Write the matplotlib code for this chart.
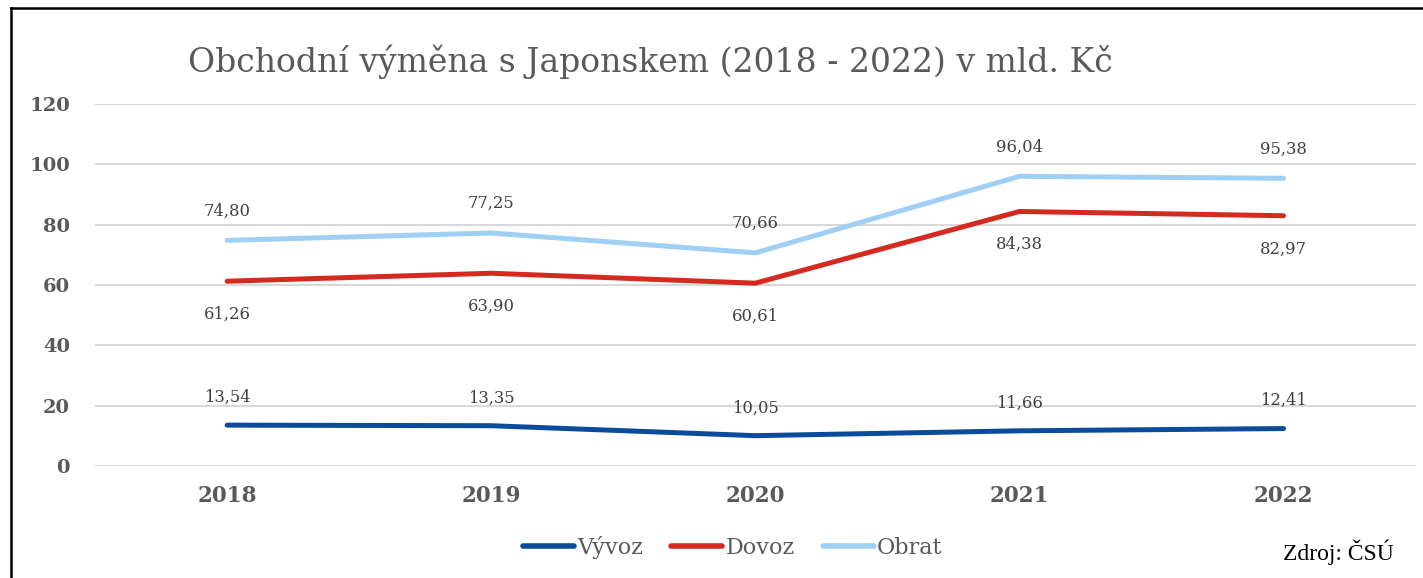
import matplotlib
matplotlib.use("Agg")
import matplotlib.pyplot as plt
from matplotlib.lines import Line2D

years = ["2018", "2019", "2020", "2021", "2022"]
vyvoz = [13.54, 13.35, 10.05, 11.66, 12.41]
dovoz = [61.26, 63.90, 60.61, 84.38, 82.97]
obrat = [74.80, 77.25, 70.66, 96.04, 95.38]
series_names = ["Vývoz", "Dovoz", "Obrat"]
yticks = [0, 20, 40, 60, 80, 100, 120]

colors = ["#0A4B9B", "#D42A1F", "#9FCFF3"]
serif = ["DejaVu Serif"]

fig = plt.figure(figsize=(14.23, 5.78), dpi=100)
ax = fig.add_axes([0.0668, 0.1938, 0.928, 0.6262])

x = list(range(len(years)))
for vals, c in zip([vyvoz, dovoz, obrat], colors):
    ax.plot(x, vals, color=c, lw=3.6, solid_capstyle="round", solid_joinstyle="round", zorder=3)

def fmt(v):
    return f"{v:.2f}".replace(".", ",")

for xi, v in zip(x, obrat):
    ax.annotate(fmt(v), (xi, v), xytext=(0, 21), textcoords="offset points",
                ha="center", va="center", fontsize=11.8, color="#404040", family=serif)
for xi, v in zip(x, dovoz):
    ax.annotate(fmt(v), (xi, v), xytext=(0, -24), textcoords="offset points",
                ha="center", va="center", fontsize=11.8, color="#404040", family=serif)
for xi, v in zip(x, vyvoz):
    ax.annotate(fmt(v), (xi, v), xytext=(0, 20), textcoords="offset points",
                ha="center", va="center", fontsize=11.8, color="#404040", family=serif)

ax.set_xlim(-0.5, len(years) - 0.5)
ax.set_ylim(0, 120)
ax.set_yticks(yticks)
ax.set_yticklabels([str(t) for t in yticks], fontsize=14, fontweight="bold",
                   color="#595959", family=serif)
ax.set_xticks(x)
ax.set_xticklabels(years, fontsize=15.5, fontweight="bold", color="#595959", family=serif)
ax.tick_params(axis="both", length=0)
ax.tick_params(axis="y", pad=18)
ax.tick_params(axis="x", pad=14)
ax.grid(axis="y", color="#D9D9D9", lw=1.5)
ax.set_axisbelow(True)
for s in ax.spines.values():
    s.set_visible(False)

fig.text(0.457, 0.893, "Obchodní výměna s Japonskem (2018 - 2022) v mld. Kč",
         ha="center", va="center", fontsize=23.8, color="#595959", family=serif)

handles = [Line2D([0], [0], color=c, lw=4, solid_capstyle="round") for c in colors]
leg = fig.legend(handles, series_names, loc="center", bbox_to_anchor=(0.515, 0.053),
                 ncol=3, frameon=False, handlelength=2.3, handletextpad=0.15,
                 columnspacing=1.25, prop={"family": serif, "size": 16})
for t in leg.get_texts():
    t.set_color("#595959")

fig.text(0.9405, 0.045, "Zdroj: ČSÚ", ha="center", va="center", fontsize=17,
         color="black", family=["Liberation Serif"])

# frame lines (left and top)
fig.add_artist(Line2D([11/1423, 11/1423], [0, 1 - 8/578], transform=fig.transFigure,
                      color="black", lw=1.8))
fig.add_artist(Line2D([11/1423, 1], [1 - 8/578, 1 - 8/578], transform=fig.transFigure,
                      color="black", lw=1.8))

fig.savefig("out.png", dpi=100)
